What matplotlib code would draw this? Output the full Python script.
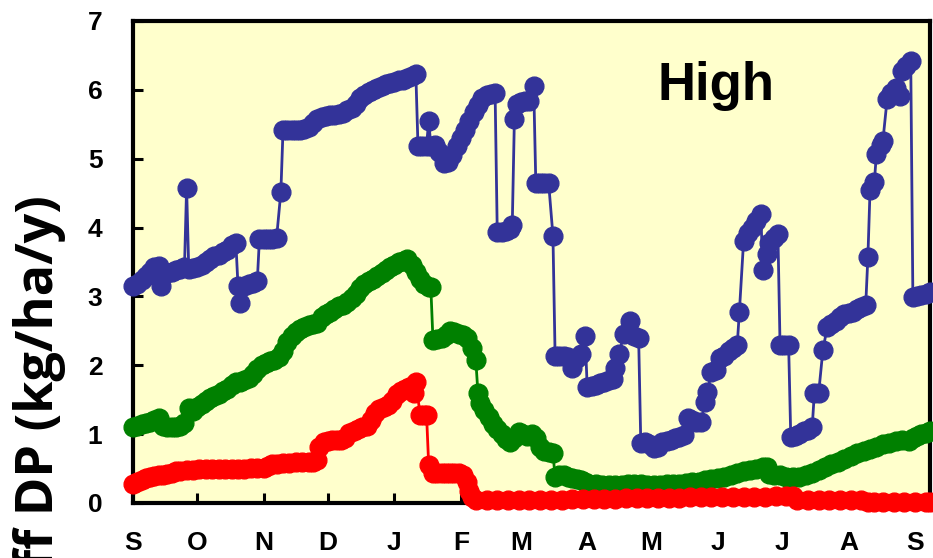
import matplotlib
matplotlib.use("Agg")
import matplotlib.pyplot as plt

# Days counted from 1 September
month_days = [0, 30, 61, 91, 122, 153, 181, 212, 242, 273, 303, 334, 365]
month_labels = ["S", "O", "N", "D", "J", "F", "M", "A", "M", "J", "J", "A", "S"]

blue_x = [0, 2, 4, 6, 8, 10, 12, 13, 14, 16, 18, 20, 22, 24, 25, 26, 28, 30, 32, 34,
          36, 38, 40, 42, 44, 46, 48, 49, 50, 52, 54, 56, 58, 59, 61, 63, 65, 67, 69, 70,
          72, 74, 76, 78, 80, 82, 84, 86, 88, 90, 92, 94, 96, 98, 100, 102, 104, 106, 108, 110,
          112, 114, 116, 118, 120, 122, 124, 126, 128, 130, 132, 133, 135, 137, 138, 139, 141, 143, 145, 147,
          149, 151, 153, 155, 157, 159, 161, 163, 165, 167, 169, 170, 172, 174, 176, 177, 178, 179, 181, 183,
          185, 187, 188, 190, 192, 194, 196, 197, 199, 201, 203, 205, 207, 209, 211, 212, 214, 216, 218, 220,
          222, 224, 225, 227, 229, 232, 234, 236, 237, 239, 241, 243, 245, 247, 249, 251, 253, 255, 257, 259,
          261, 263, 265, 267, 268, 270, 272, 274, 276, 278, 280, 282, 283, 285, 287, 289, 291, 293, 294, 296,
          297, 299, 301, 302, 304, 306, 307, 309, 311, 313, 315, 317, 318, 320, 322, 324, 326, 328, 330, 332,
          334, 336, 338, 340, 342, 343, 344, 346, 347, 349, 350, 352, 354, 356, 358, 359, 361, 363, 364, 366,
          368, 370, 372]
blue_y = [3.15, 3.18, 3.24, 3.30, 3.36, 3.42, 3.44, 3.15, 3.32, 3.34, 3.36, 3.38, 3.40, 3.42, 4.58, 3.40, 3.41, 3.43, 3.46, 3.50,
          3.55, 3.58, 3.60, 3.64, 3.68, 3.74, 3.77, 3.15, 2.90, 3.15, 3.18, 3.20, 3.23, 3.84, 3.84, 3.84, 3.84, 3.85, 4.52, 5.41,
          5.41, 5.41, 5.42, 5.42, 5.43, 5.46, 5.52, 5.58, 5.60, 5.62, 5.63, 5.64, 5.65, 5.67, 5.70, 5.74, 5.80, 5.88, 5.93, 5.97,
          6.00, 6.03, 6.06, 6.08, 6.10, 6.12, 6.14, 6.15, 6.17, 6.20, 6.23, 5.19, 5.19, 5.19, 5.55, 5.19, 5.20, 5.10, 4.94, 4.95,
          5.05, 5.19, 5.30, 5.42, 5.55, 5.68, 5.78, 5.88, 5.92, 5.94, 5.95, 3.93, 3.93, 3.95, 3.98, 4.03, 5.58, 5.80, 5.82, 5.84,
          5.84, 6.06, 4.65, 4.65, 4.65, 4.64, 3.88, 2.14, 2.14, 2.14, 2.12, 1.96, 2.10, 2.16, 2.43, 1.68, 1.70, 1.72, 1.74, 1.76,
          1.78, 1.80, 1.96, 2.17, 2.46, 2.65, 2.42, 2.39, 0.87, 0.88, 0.86, 0.80, 0.82, 0.88, 0.90, 0.92, 0.94, 0.96, 0.99, 1.23,
          1.20, 1.17, 1.17, 1.46, 1.61, 1.90, 1.93, 2.10, 2.14, 2.20, 2.25, 2.29, 2.77, 3.81, 3.92, 4.00, 4.10, 4.20, 3.38, 3.62,
          3.77, 3.85, 3.91, 2.29, 2.29, 2.30, 0.96, 0.98, 1.00, 1.04, 1.06, 1.10, 1.59, 1.59, 2.22, 2.55, 2.60, 2.65, 2.70, 2.74,
          2.76, 2.78, 2.82, 2.85, 2.88, 3.57, 4.54, 4.66, 5.07, 5.20, 5.26, 5.87, 5.95, 6.03, 5.91, 6.28, 6.35, 6.42, 2.99, 3.00,
          3.02, 3.04, 3.06]

green_x = [0, 2, 4, 6, 8, 10, 12, 14, 16, 18, 20, 22, 24, 26, 28, 30, 32, 34, 36, 38,
           40, 42, 44, 46, 48, 50, 52, 54, 56, 58, 60, 62, 64, 66, 68, 70, 72, 74, 76, 78,
           80, 82, 84, 86, 88, 90, 92, 94, 96, 98, 100, 102, 104, 106, 108, 110, 112, 114, 116, 118,
           120, 122, 124, 126, 128, 130, 132, 134, 136, 138, 139, 140, 142, 144, 146, 148, 150, 152, 154, 156,
           158, 160, 161, 162, 164, 166, 168, 170, 172, 174, 176, 178, 180, 182, 184, 186, 188, 190, 192, 194,
           196, 197, 199, 201, 203, 205, 207, 209, 211, 213, 216, 219, 222, 225, 228, 231, 234, 237, 240, 243,
           246, 249, 252, 255, 258, 261, 264, 267, 270, 273, 276, 279, 282, 285, 288, 291, 294, 296, 297, 299,
           302, 305, 308, 311, 314, 317, 320, 323, 326, 329, 332, 335, 338, 341, 344, 347, 350, 353, 356, 359,
           362, 364, 366, 368, 370, 372]
green_y = [1.10, 1.12, 1.14, 1.16, 1.18, 1.20, 1.23, 1.12, 1.10, 1.10, 1.10, 1.12, 1.16, 1.38, 1.33, 1.40, 1.44, 1.48, 1.52, 1.56,
           1.58, 1.62, 1.66, 1.72, 1.76, 1.76, 1.78, 1.82, 1.88, 1.94, 2.00, 2.04, 2.06, 2.08, 2.12, 2.20, 2.34, 2.42, 2.48, 2.52,
           2.55, 2.58, 2.60, 2.62, 2.70, 2.74, 2.78, 2.82, 2.86, 2.88, 2.92, 2.98, 3.04, 3.12, 3.18, 3.22, 3.26, 3.30, 3.34, 3.38,
           3.42, 3.46, 3.50, 3.52, 3.55, 3.45, 3.35, 3.25, 3.18, 3.14, 3.13, 2.36, 2.38, 2.40, 2.44, 2.50, 2.48, 2.46, 2.44, 2.40,
           2.25, 2.07, 1.59, 1.45, 1.35, 1.25, 1.15, 1.08, 1.00, 0.93, 0.88, 0.95, 1.03, 1.00, 0.98, 1.00, 0.95, 0.82, 0.76, 0.74,
           0.72, 0.38, 0.40, 0.41, 0.38, 0.36, 0.35, 0.33, 0.30, 0.28, 0.27, 0.26, 0.26, 0.26, 0.26, 0.27, 0.27, 0.27, 0.26, 0.26,
           0.26, 0.27, 0.27, 0.28, 0.29, 0.30, 0.31, 0.33, 0.35, 0.36, 0.38, 0.40, 0.43, 0.46, 0.48, 0.50, 0.52, 0.52, 0.42, 0.40,
           0.40, 0.38, 0.38, 0.38, 0.40, 0.43, 0.48, 0.52, 0.56, 0.60, 0.64, 0.68, 0.72, 0.75, 0.78, 0.82, 0.85, 0.87, 0.90, 0.92,
           0.90, 0.94, 0.98, 1.00, 1.02, 1.05]

red_x = [0, 2, 4, 6, 8, 10, 12, 14, 16, 18, 20, 22, 25, 28, 31, 34, 37, 40, 43, 46,
         49, 52, 55, 58, 61, 63, 65, 67, 70, 73, 76, 79, 82, 84, 86, 87, 89, 91, 93, 95,
         97, 99, 101, 103, 105, 107, 109, 111, 113, 115, 117, 119, 121, 123, 125, 127, 129, 131, 132, 134,
         136, 137, 138, 140, 142, 144, 146, 148, 150, 152, 154, 156, 157, 158, 160, 165, 170, 175, 180, 185,
         190, 195, 200, 205, 210, 215, 220, 225, 230, 235, 240, 245, 250, 255, 260, 265, 270, 275, 280, 285,
         290, 295, 300, 305, 308, 310, 315, 320, 325, 330, 335, 340, 343, 346, 350, 355, 360, 365, 370, 372]
red_y = [0.28, 0.30, 0.33, 0.36, 0.38, 0.39, 0.40, 0.41, 0.42, 0.44, 0.46, 0.47, 0.48, 0.48, 0.49, 0.49, 0.49, 0.50, 0.50, 0.50,
         0.50, 0.50, 0.51, 0.51, 0.51, 0.53, 0.56, 0.57, 0.58, 0.58, 0.59, 0.59, 0.60, 0.60, 0.62, 0.82, 0.88, 0.90, 0.91, 0.92,
         0.92, 0.95, 1.02, 1.05, 1.07, 1.10, 1.12, 1.20, 1.30, 1.36, 1.40, 1.43, 1.48, 1.58, 1.63, 1.65, 1.68, 1.60, 1.76, 1.28,
         1.28, 1.28, 0.55, 0.44, 0.43, 0.43, 0.43, 0.43, 0.43, 0.43, 0.40, 0.30, 0.18, 0.08, 0.05, 0.05, 0.05, 0.05, 0.05, 0.05,
         0.05, 0.05, 0.05, 0.06, 0.06, 0.06, 0.06, 0.06, 0.07, 0.07, 0.07, 0.07, 0.07, 0.07, 0.08, 0.08, 0.08, 0.08, 0.08, 0.09,
         0.09, 0.09, 0.10, 0.10, 0.10, 0.05, 0.05, 0.05, 0.05, 0.05, 0.05, 0.05, 0.02, 0.02, 0.02, 0.02, 0.02, 0.02, 0.02, 0.02]

y_ticks = [0, 1, 2, 3, 4, 5, 6, 7]

fig = plt.figure(figsize=(9.33, 5.58), dpi=100)
ax = fig.add_axes([0.1426, 0.0986, 0.8542, 0.8638])
ax.set_facecolor("#FFFFCC")

style = dict(marker="o", markersize=13.5, linewidth=2.0, clip_on=False, zorder=4)
ax.plot(blue_x, blue_y, color="#333399", **style)
ax.plot(green_x, green_y, color="#008000", **style)
ax.plot(red_x, red_y, color="#FF0000", **style)

ax.set_xlim(0, 372)
ax.set_ylim(0, 7)
ax.set_xticks(month_days)
ax.set_xticklabels(month_labels)
ax.set_yticks(y_ticks)

for sp in ax.spines.values():
    sp.set_linewidth(3.0)
    sp.set_color("black")

ax.tick_params(axis="both", direction="in", length=7, width=2.2, colors="black")
ax.tick_params(axis="x", pad=20)
ax.tick_params(axis="y", pad=22)
for lab in ax.get_xticklabels() + ax.get_yticklabels():
    lab.set_fontfamily("Liberation Sans")
    lab.set_fontweight("bold")
    lab.set_fontsize(19)

ax.text(0.7315, 0.836, "High", transform=ax.transAxes, ha="center", va="baseline",
        fontsize=38, fontweight="bold", family="Liberation Sans", zorder=5)

fig.text(53 / 933, 1 - 195 / 558, "Runoff DP (kg/ha/y)", rotation=90,
         rotation_mode="anchor", ha="right", va="baseline",
         fontsize=37.5, fontweight="bold", family="Open Sans")

fig.savefig("out.png", dpi=100)
